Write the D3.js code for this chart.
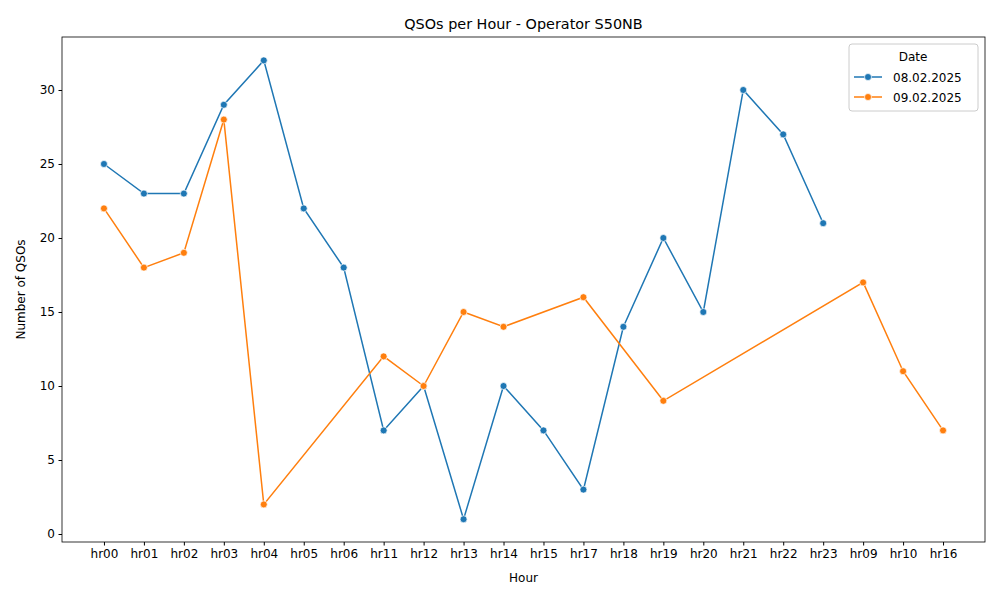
<!DOCTYPE html><html><head><meta charset="utf-8"><script src="https://cdn.jsdelivr.net/npm/d3@7"></script>
<style>body{margin:0;background:#fff}text{font-family:"DejaVu Sans",sans-serif}</style></head><body>
<svg id="c" width="1000" height="600"></svg>
<script>
const categories=["hr00","hr01","hr02","hr03","hr04","hr05","hr06","hr11","hr12","hr13","hr14","hr15","hr17","hr18","hr19","hr20","hr21","hr22","hr23","hr09","hr10","hr16"];
const hours08=["hr00","hr01","hr02","hr03","hr04","hr05","hr06","hr11","hr12","hr13","hr14","hr15","hr17","hr18","hr19","hr20","hr21","hr22","hr23"];
const values08=[25,23,23,29,32,22,18,7,10,1,10,7,3,14,20,15,30,27,21];
const hours09=["hr00","hr01","hr02","hr03","hr04","hr11","hr12","hr13","hr14","hr17","hr19","hr09","hr10","hr16"];
const values09=[22,18,19,28,2,12,10,15,14,16,9,17,11,7];
const yTicks=[0,5,10,15,20,25,30];
const seriesNames=["08.02.2025","09.02.2025"];
const colors=["#1f77b4","#ff7f0e"];
const L=62,R=985,T=37,B=542;
const svg=d3.select("#c");
const x=d3.scalePoint().domain(categories).range([L,R]).padding(1.05);
const y=d3.scaleLinear().domain([-0.54,33.58]).range([B,T]);
svg.append("g").attr("transform",`translate(0,${B})`).call(d3.axisBottom(x).tickSizeOuter(0).tickSize(3.5).tickPadding(3.5)).call(g=>{g.select(".domain").remove();g.selectAll("text").attr("font-size",12).attr("fill","#000")});
svg.append("g").attr("transform",`translate(${L},0)`).call(d3.axisLeft(y).tickValues(yTicks).tickSize(3.5).tickPadding(3.5)).call(g=>{g.select(".domain").remove();g.selectAll("text").attr("font-size",12).attr("fill","#000")});
svg.append("rect").attr("x",L).attr("y",T).attr("width",R-L).attr("height",B-T).attr("fill","none").attr("stroke","#000").attr("stroke-width",0.8);
const data=[hours08.map((h,i)=>({h,v:values08[i]})),hours09.map((h,i)=>({h,v:values09[i]}))];
const line=d3.line().x(d=>x(d.h)).y(d=>y(d.v));
data.forEach((s,i)=>{
 svg.append("path").datum(s).attr("d",line).attr("fill","none").attr("stroke",colors[i]).attr("stroke-width",1.5);
 svg.selectAll(null).data(s).enter().append("circle").attr("cx",d=>x(d.h)).attr("cy",d=>y(d.v)).attr("r",3.5).attr("fill",colors[i]).attr("stroke","#fff").attr("stroke-width",0.7);
});
svg.append("text").attr("x",(L+R)/2).attr("y",29).attr("text-anchor","middle").attr("font-size",14.4).text("QSOs per Hour - Operator S50NB");
svg.append("text").attr("x",(L+R)/2).attr("y",582).attr("text-anchor","middle").attr("font-size",12).text("Hour");
svg.append("text").attr("transform",`translate(25,${(T+B)/2}) rotate(-90)`).attr("text-anchor","middle").attr("font-size",12).text("Number of QSOs");
const lg=svg.append("g");
lg.append("rect").attr("x",849).attr("y",44).attr("width",129).attr("height",67).attr("rx",3).attr("fill","#fff").attr("stroke","#ccc");
lg.append("text").attr("x",913).attr("y",61).attr("text-anchor","middle").attr("font-size",12).text("Date");
seriesNames.forEach((n,i)=>{const yy=77+i*20;
 lg.append("line").attr("x1",854).attr("x2",882).attr("y1",yy).attr("y2",yy).attr("stroke",colors[i]).attr("stroke-width",1.5);
 lg.append("circle").attr("cx",868).attr("cy",yy).attr("r",3.5).attr("fill",colors[i]).attr("stroke","#fff").attr("stroke-width",0.7);
 lg.append("text").attr("x",893).attr("y",yy+4.5).attr("font-size",12).text(n);});
</script></body></html>
